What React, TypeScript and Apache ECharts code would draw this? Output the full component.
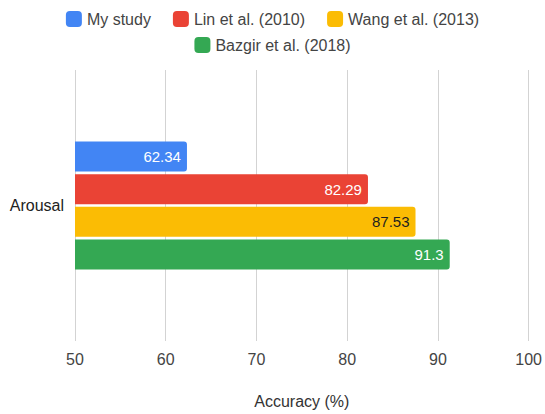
import React, { useEffect, useRef } from "react";
import * as echarts from "echarts";

const categories = ["Arousal"];
const seriesNames = ["My study", "Lin et al. (2010)", "Wang et al. (2013)", "Bazgir et al. (2018)"];
const seriesValues = [62.34, 82.29, 87.53, 91.3];
const seriesColors = ["#4285F4", "#EA4335", "#FBBC04", "#34A853"];
const labelColors = ["#ffffff", "#ffffff", "#1f1f1f", "#ffffff"];
const xTicks = { min: 50, max: 100, interval: 10 };

const FONT = "'Liberation Sans', Arial, sans-serif";

export default function App() {
  const ref = useRef<HTMLDivElement>(null);

  useEffect(() => {
    if (!ref.current) return;
    const chart = echarts.init(ref.current, null, { renderer: "svg" });

    const legendText = { color: "#444", fontSize: 16, fontFamily: FONT };

    chart.setOption({
      animation: false,
      textStyle: { fontFamily: FONT },
      legend: [
        {
          data: seriesNames.slice(0, 3),
          top: 11,
          left: "center",
          padding: 0,
          itemWidth: 16,
          itemHeight: 16,
          itemGap: 22,
          icon: "roundRect",
          textStyle: legendText,
        },
        {
          data: seriesNames.slice(3),
          top: 37,
          left: "center",
          padding: 0,
          itemWidth: 16,
          itemHeight: 16,
          icon: "roundRect",
          textStyle: legendText,
        },
      ],
      grid: { left: 75, right: 13, top: 70, bottom: 71 },
      xAxis: {
        type: "value",
        min: xTicks.min,
        max: xTicks.max,
        interval: xTicks.interval,
        name: "Accuracy (%)",
        nameLocation: "middle",
        nameGap: 52,
        nameTextStyle: { color: "#333", fontSize: 16, fontFamily: FONT },
        axisLine: { show: false },
        axisTick: { show: false },
        axisLabel: { color: "#444", fontSize: 16, margin: 10, fontFamily: FONT },
        splitLine: { lineStyle: { color: "#d3d3d3", width: 1 } },
      },
      yAxis: {
        type: "category",
        data: categories,
        inverse: true,
        axisLine: { show: false },
        axisTick: { show: false },
        axisLabel: { color: "#222", fontSize: 16, margin: 11, fontFamily: FONT },
      },
      series: seriesNames.map((name, i) => ({
        name,
        type: "bar",
        data: [seriesValues[i]],
        barWidth: 30,
        barGap: "9%",
        itemStyle: { color: seriesColors[i], borderRadius: [0, 3, 3, 0] },
        label: {
          show: true,
          position: "insideRight",
          distance: 6,
          color: labelColors[i],
          fontSize: 15,
          fontFamily: FONT,
        },
      })),
    });

    return () => chart.dispose();
  }, []);

  return (
    <div
      ref={ref}
      style={{ position: "absolute", left: 0, top: 0, width: 545, height: 414 }}
    />
  );
}
